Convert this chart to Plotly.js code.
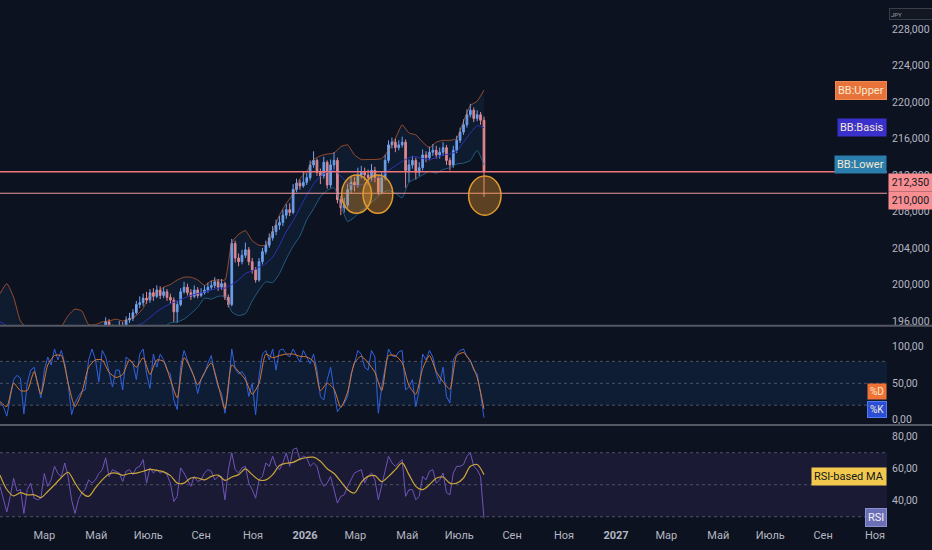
<!DOCTYPE html>
<html><head><meta charset="utf-8">
<script src="https://cdn.plot.ly/plotly-3.0.1.min.js"></script>
<style>html,body{margin:0;padding:0;background:#0d1220;}#chart{width:932px;height:550px;}</style>
</head><body><div id="chart"></div>
<script>
// ---------------- DATA (prices in thousands of JPY) ----------------
const SERIES_START = [2025, 0, 8];   // first sample date (UTC y, m, d)
const STEP_FAST = 4;                 // days between samples: candles, %K, RSI
const STEP_SLOW = 8;                 // days between samples: Bollinger bands, %D, RSI MA
const CANDLE_FIRST_SAMPLE = 28;      // candles start at this fast-sample index

const candleOpen = [
194.8,194.5,194.0,195.0,195.9,195.2,194.8,195.0,195.5,195.3,
196.1,196.3,196.9,197.8,198.0,198.5,198.3,199.1,198.7,199.4,
198.8,199.2,198.6,198.3,197.0,197.8,199.2,199.7,199.1,198.7,
199.4,198.8,199.1,199.4,199.7,199.9,200.3,199.7,200.1,198.6,
197.8,204.5,202.9,202.5,203.2,203.8,202.5,201.6,200.5,202.5,
203.6,204.3,205.1,205.8,206.5,206.8,207.6,208.2,207.9,210.4,
211.1,210.8,211.2,211.7,213.1,213.6,212.3,211.9,213.4,210.9,
213.1,213.6,209.3,208.4,208.7,210.4,211.2,210.9,212.0,212.3,
212.0,211.7,212.5,211.7,210.1,211.7,213.6,215.3,215.6,215.0,
215.3,215.6,212.5,213.1,213.6,212.3,212.8,214.2,213.9,214.5,
214.7,214.2,214.5,215.0,213.6,213.1,214.7,215.8,216.7,217.5,
218.6,219.1,218.2,218.6,218.0];
const candleHigh = [
195.2,194.9,195.4,196.4,196.2,195.6,195.5,196.0,195.9,196.5,
196.9,197.3,198.2,198.7,199.0,199.2,199.5,199.6,199.9,199.8,
199.7,199.5,199.0,198.6,198.2,199.6,200.3,200.1,199.5,199.9,
199.7,199.6,199.9,200.2,200.4,200.8,200.6,200.6,200.3,198.9,
205.0,204.8,203.4,203.8,204.6,204.1,202.9,201.9,202.9,204.0,
204.8,205.6,206.4,207.1,207.5,208.2,208.8,208.9,211.0,211.6,
211.5,212.4,212.2,213.6,214.6,213.8,212.7,214.0,213.6,213.7,
214.5,213.9,209.7,209.5,211.0,211.9,211.8,212.8,213.0,212.8,
212.6,213.2,212.9,212.0,212.3,214.2,215.8,216.1,216.0,215.8,
216.2,215.9,213.7,214.1,213.9,213.4,214.8,214.6,215.1,215.4,
215.2,215.0,215.6,215.3,213.9,215.2,216.3,217.2,218.1,219.2,
219.8,219.4,219.1,218.9,218.4];
const candleLow = [
194.1,193.6,193.8,194.8,194.9,194.4,194.5,194.8,195.0,195.1,
195.8,196.0,196.7,197.4,197.6,197.9,198.0,198.2,198.5,198.4,
198.5,198.2,197.9,195.9,195.8,197.6,199.0,198.8,198.3,198.5,
198.5,198.6,198.9,199.1,199.4,199.6,199.3,199.4,198.3,197.5,
197.6,202.4,202.0,202.2,202.9,202.1,201.2,200.2,200.3,202.2,
203.3,204.0,204.8,205.4,206.0,206.4,207.2,207.5,207.7,210.1,
210.4,210.6,210.9,211.4,212.8,211.9,211.0,211.6,210.5,210.6,
212.6,208.9,207.6,207.9,208.4,210.0,210.2,210.6,211.6,211.4,
210.9,211.3,211.2,209.8,209.9,211.4,213.3,214.9,214.5,214.7,
215.0,210.6,211.2,212.7,211.5,211.9,212.5,213.4,213.6,214.1,
213.8,213.8,214.1,213.1,212.5,212.8,214.4,215.5,216.4,217.2,
218.3,217.8,217.9,217.5,209.6];
const candleClose = [
194.5,194.0,195.0,195.9,195.2,194.8,195.0,195.5,195.3,196.1,
196.3,196.9,197.8,198.0,198.5,198.3,199.1,198.7,199.4,198.8,
199.2,198.6,198.3,197.0,197.8,199.2,199.7,199.1,198.7,199.4,
198.8,199.1,199.4,199.7,199.9,200.3,199.7,200.1,198.6,197.8,
204.5,202.9,202.5,203.2,203.8,202.5,201.6,200.5,202.5,203.6,
204.3,205.1,205.8,206.5,206.8,207.6,208.2,207.9,210.4,211.1,
210.8,211.2,211.7,213.1,213.6,212.3,211.9,213.4,210.9,213.1,
213.6,209.3,208.4,208.7,210.4,211.2,210.9,212.0,212.3,212.0,
211.7,212.5,211.7,210.1,211.7,213.6,215.3,215.6,215.0,215.3,
215.6,212.5,213.1,213.6,212.3,212.8,214.2,213.9,214.5,214.7,
214.2,214.5,215.0,213.6,213.1,214.7,215.8,216.7,217.5,218.6,
219.1,218.2,218.6,218.0,212.35];

const bbUpper = [
199.0,200.1,198.6,196.0,195.2,195.0,194.8,194.9,195.0,195.4,
196.6,197.3,197.1,195.6,195.6,195.9,196.0,196.2,196.0,196.2,
196.6,197.4,198.8,199.1,199.7,200.0,200.5,200.8,200.8,200.5,
199.9,200.4,200.5,200.5,204.6,205.5,205.9,204.8,204.3,204.3,
205.8,207.6,208.9,209.9,211.6,212.4,213.7,214.1,214.3,214.4,
215.1,215.3,214.2,213.7,213.7,213.7,213.8,214.7,216.0,217.5,
216.6,216.4,215.6,215.0,215.6,215.8,215.8,216.0,217.9,219.6,
220.1,221.3];
const bbBasis = [
195.9,195.5,194.8,194.0,193.6,193.4,193.2,193.2,193.3,193.3,
193.4,193.6,193.8,194.0,194.3,194.5,194.8,195.0,195.1,195.3,
195.5,195.8,196.4,197.0,197.5,197.9,198.2,198.5,198.8,199.0,
199.2,199.4,199.6,199.6,200.0,200.5,201.2,201.5,201.9,202.3,
203.0,204.3,205.8,207.0,208.4,209.8,211.0,211.9,212.3,212.5,
211.9,211.1,210.8,210.9,211.2,211.6,211.9,212.5,213.0,213.5,
213.9,214.0,213.8,213.7,213.9,214.2,214.3,214.6,215.6,216.6,
217.4,217.2];
const bbLower = [
192.8,190.9,191.0,192.0,192.0,191.8,191.6,191.5,191.6,191.2,
190.2,189.9,190.5,192.4,193.0,193.1,193.6,193.8,194.2,194.4,
194.4,194.2,194.0,194.9,195.3,195.8,195.9,196.2,196.8,197.5,
198.5,198.4,198.7,198.7,197.0,196.6,196.8,198.2,199.4,200.3,
200.2,201.2,202.8,204.2,205.3,207.1,208.3,209.6,210.3,210.6,
208.7,206.9,207.4,208.1,208.7,209.3,210.0,210.3,210.0,209.5,
211.2,211.6,212.0,212.4,212.2,212.6,212.8,213.2,213.3,213.6,
214.7,213.1];

const stochK = [
23,18,5,32,55,61,57,8,50,68, 72,50,30,68,86,75,97,82,95,77,
50,7,23,32,39,41,82,97,82,52, 95,86,63,45,68,68,41,86,82,77,
55,90,97,63,43,90,72,90,82,68, 63,27,14,72,95,82,68,59,36,55,
63,77,88,63,45,36,9,41,97,70, 63,66,59,32,50,7,59,90,95,82,
97,68,95,97,90,86,97,88,79,95, 86,77,90,68,32,27,55,72,41,11,
18,23,32,63,77,95,90,72,68,95, 86,9,45,72,97,88,86,93,95,41,
45,55,18,41,90,82,95,86,63,50, 72,32,23,82,90,95,97,86,82,68,
63,36,3];
const stochD = [
25,18,50,40,40,66,35,75,88,88, 50,18,37,72,82,82,65,58,62,82,
72,85,62,82,80,55,30,85,70,48, 65,78,48,15,75,66,55,35,50,90,
85,88,90,90,87,86,80,40,50,42, 17,38,78,87,78,65,40,88,88,78,
47,35,70,88,66,52,42,88,92,80, 58,15];

const rsi = [
49,40.6,33,42.7,54,46,47,32,47,51, 41.6,40.6,41.6,57,49,53,61.5,57,55,63.6,
55,40.6,32,40.6,45,47,53,51,53,57, 59.4,66.8,55,59.4,58.4,57.3,52,58.4,59.4,56.3,
60.5,61.5,65.7,51,60.5,57.3,59.4,57.3,58.4,56.3, 51,39.5,42.7,60.5,57.3,53,49,55.2,52,53,
57.3,59.4,58.4,53,55.2,55.2,40.6,59.4,70,59.4, 57.3,60.5,61.5,51,46.9,41.6,53,55.2,63.6,61.5,
67.8,61.5,59.4,63.6,70,61.5,72,73,65.7,67.8, 66.8,61.5,63.6,61.5,53,49,51,55.2,46.9,38.5,
42.7,43.7,49,53,57.3,58.4,59.4,51,55.2,57.3, 53,40.6,50,57.3,67.8,63.6,61.5,63.6,65.7,42.7,
46.9,46.9,40.6,42.7,55.2,53,58.4,59.4,51,53, 57.3,45,43.7,57.3,61.5,61.5,62.6,67.8,70,61.5,
59.4,55.2,29];
const rsiMA = [
56,47,43,45,43.7,43.7,42,45.8,50,54.5, 57.8,51,45,42.7,48,53,56.7,57.3,55.9,57,
57.3,58.4,59.6,59,58,55.7,51,51,54.2,54.2, 53,55.2,56,52.7,54.8,56.3,59.9,56.3,53,53,
56.3,62,63.4,64,66,67,67.2,64.7,60,57, 52,46.9,44.8,51.5,55.2,55.7,51.9,55.2,59.4,63.6,
56.3,49,46.9,50,54,54.8,51,51,54.2,61.5, 62.6,56.3];

const priceLineValue = 212350;   // last price line
const levelLineValue = 210000;   // drawn horizontal level

const monthTickDates = ['2025-03-01','2025-05-01','2025-07-01','2025-09-01','2025-11-01','2026-01-01',
  '2026-03-01','2026-05-01','2026-07-01','2026-09-01','2026-11-01','2027-01-01',
  '2027-03-01','2027-05-01','2027-07-01','2027-09-01','2027-11-01'];
const monthTickLabels = ['Мар','Май','Июль','Сен','Ноя','<b>2026</b>','Мар','Май','Июль','Сен','Ноя',
  '<b>2027</b>','Мар','Май','Июль','Сен','Ноя'];
const priceTickValues = [196000,200000,204000,208000,212000,216000,220000,224000,228000];
const priceTickLabels = ['196,000','200,000','204,000','208,000','212,000','216,000','220,000','224,000','228,000'];
const stochTickValues = [0,50,100];
const stochTickLabels = ['0,00','50,00','100,00'];
const rsiTickValues = [40,60,80];
const rsiTickLabels = ['40,00','60,00','80,00'];

// user-drawn ellipses (date span, price span)
const drawnEllipses = [
  {from:'2026-02-13', to:'2026-03-20', low:207800, high:212000},
  {from:'2026-03-10', to:'2026-04-14', low:207800, high:212000},
  {from:'2026-07-12', to:'2026-08-19', low:207600, high:211900}
];

// ---------------- BUILD ----------------
const DAY = 86400000;
const T0 = Date.UTC(SERIES_START[0], SERIES_START[1], SERIES_START[2]);
function sampleDates(n, step, firstIndex) {
  const out = [];
  for (let k = 0; k < n; k++) out.push(new Date(T0 + (firstIndex + k) * step * DAY).toISOString().slice(0, 10));
  return out;
}
const toJPY = a => a.map(v => v * 1000);
const last = a => a[a.length - 1];

const xCandle = sampleDates(candleClose.length, STEP_FAST, CANDLE_FIRST_SAMPLE);
const xFast = sampleDates(stochK.length, STEP_FAST, 0);
const xSlow = sampleDates(bbUpper.length, STEP_SLOW, 0);

const BG = '#0d1220';
const TXT = '#b4b7c0';
const FONT = 'Roboto, "Liberation Sans", sans-serif';

const traces = [
  {type:'scatter', mode:'lines', x:xSlow, y:toJPY(bbUpper), xaxis:'x', yaxis:'y',
   line:{color:'rgba(236,110,50,0.6)', width:1, shape:'spline', smoothing:0.5}, hoverinfo:'skip'},
  {type:'scatter', mode:'lines', x:xSlow, y:toJPY(bbLower), xaxis:'x', yaxis:'y', fill:'tonexty',
   fillcolor:'rgba(40,120,200,0.10)',
   line:{color:'rgba(40,110,150,0.8)', width:1, shape:'spline', smoothing:0.5}, hoverinfo:'skip'},
  {type:'scatter', mode:'lines', x:xSlow, y:toJPY(bbBasis), xaxis:'x', yaxis:'y',
   line:{color:'#2c33b8', width:1, shape:'spline', smoothing:0.5}, hoverinfo:'skip'},
  {type:'candlestick', x:xCandle, open:toJPY(candleOpen), high:toJPY(candleHigh),
   low:toJPY(candleLow), close:toJPY(candleClose), xaxis:'x', yaxis:'y',
   increasing:{line:{color:'#74a5f0', width:1}, fillcolor:'#74a5f0'},
   decreasing:{line:{color:'#f08a8c', width:1}, fillcolor:'#f08a8c'},
   whiskerwidth:0, hoverinfo:'skip'},
  {type:'scatter', mode:'lines', x:xFast, y:stochK, xaxis:'x', yaxis:'y2',
   line:{color:'#2f62e0', width:1}, hoverinfo:'skip'},
  {type:'scatter', mode:'lines', x:xSlow, y:stochD, xaxis:'x', yaxis:'y2',
   line:{color:'#d9782d', width:1, shape:'spline', smoothing:0.6}, hoverinfo:'skip'},
  {type:'scatter', mode:'lines', x:xFast, y:rsi, xaxis:'x', yaxis:'y3',
   line:{color:'#6f54b8', width:1}, hoverinfo:'skip'},
  {type:'scatter', mode:'lines', x:xSlow, y:rsiMA, xaxis:'x', yaxis:'y3',
   line:{color:'#c9a53a', width:1.2, shape:'spline', smoothing:0.8}, hoverinfo:'skip'}
];

const shapes = [];
// indicator bands
shapes.push({type:'rect', layer:'below', xref:'paper', x0:0, x1:1, yref:'y2', y0:20, y1:80,
  fillcolor:'rgba(33,120,220,0.11)', line:{width:0}});
shapes.push({type:'rect', layer:'below', xref:'paper', x0:0, x1:1, yref:'y3', y0:30, y1:70,
  fillcolor:'rgba(126,87,194,0.13)', line:{width:0}});
[80,50,20].forEach(v => shapes.push({type:'line', xref:'paper', x0:0, x1:1, yref:'y2', y0:v, y1:v,
  line:{color:'#4c5262', width:1, dash:'3px,3px'}, layer:'below'}));
[70,50,30].forEach(v => shapes.push({type:'line', xref:'paper', x0:0, x1:1, yref:'y3', y0:v, y1:v,
  line:{color:'#4c5262', width:1, dash:'3px,3px'}, layer:'below'}));
// horizontal price lines
shapes.push({type:'line', xref:'paper', x0:0, x1:1, yref:'y', y0:priceLineValue, y1:priceLineValue,
  line:{color:'#f2777b', width:1.5}});
shapes.push({type:'line', xref:'paper', x0:0, x1:1, yref:'y', y0:levelLineValue, y1:levelLineValue,
  line:{color:'#f09a9c', width:1}});
// ellipses
drawnEllipses.forEach(e => shapes.push({type:'circle', xref:'x', yref:'y', x0:e.from, x1:e.to, y0:e.low, y1:e.high,
  fillcolor:'rgba(232,150,40,0.36)', line:{color:'#e09a2e', width:1.5}}));
// pane separators
[0.3760, 0.1858].forEach(p => shapes.push({type:'line', xref:'paper', x0:0, x1:1.06, yref:'paper', y0:p, y1:p,
  line:{color:'#555964', width:2}}));

function tag(text, yref, y, bg, color, anchor, opts) {
  return Object.assign({xref:'paper', x:1, xanchor:anchor, yref:yref, y:y, text:text, showarrow:false,
    bgcolor:bg, font:{family:FONT, size:11, color:color}, borderpad:2}, opts || {});
}
const annotations = [
  tag('BB:Upper', 'y', last(bbUpper) * 1000, '#e8733a', '#f6ead2', 'right', {bordercolor:'#f08a55'}),
  tag('BB:Basis', 'y', last(bbBasis) * 1000, '#3a30cc', '#f6ead2', 'right'),
  tag('BB:Lower', 'y', last(bbLower) * 1000, '#2b7dab', '#f6ead2', 'right'),
  tag(priceLineValue.toLocaleString('en-US'), 'y', priceLineValue, '#f78f92', '#131722', 'left',
      {xshift:1, yshift:-11, width:41, height:15, borderpad:1, font:{family:FONT, size:10.5, color:'#131722'}}),
  tag(levelLineValue.toLocaleString('en-US'), 'y', levelLineValue, '#f78f92', '#131722', 'left',
      {xshift:1, yshift:-7, width:41, height:15, borderpad:1, font:{family:FONT, size:10.5, color:'#131722'}}),
  tag('%D', 'y2', last(stochD), '#ef7334', '#f6ead2', 'right', {yshift:17, font:{family:FONT, size:10, color:'#f6ead2'}, borderpad:2}),
  tag('%K', 'y2', last(stochK), '#2a4fd6', '#f6ead2', 'right', {yshift:8, bordercolor:'#4f7cf0', font:{family:FONT, size:10, color:'#f6ead2'}, borderpad:2}),
  tag('RSI-based MA', 'y3', last(rsiMA), '#f2c94c', '#131722', 'right', {yshift:-2}),
  tag('RSI', 'y3', last(rsi), '#6a6fb6', '#f0f0f8', 'right', {yshift:1, bordercolor:'#8c90d0'}),
  {xref:'paper', x:1, xanchor:'left', xshift:2, yref:'paper', y:0.984, text:'JPY', showarrow:false,
   bgcolor:'#131722', bordercolor:'#3a3e48', borderwidth:1, width:40, height:8, borderpad:1,
   font:{family:FONT, size:6, color:'#9aa0aa'}, align:'left'}
];

const axisFont = {family:FONT, size:10.5, color:TXT};
const yCommon = {side:'right', anchor:'x', showgrid:false, zeroline:false, showline:false,
  ticks:'outside', ticklen:2, tickcolor:'rgba(0,0,0,0)', tickfont:axisFont, fixedrange:true, tickmode:'array'};

const layout = {
  width:932, height:550, margin:{l:0, r:45, t:0, b:28},
  paper_bgcolor:BG, plot_bgcolor:BG, showlegend:false, hovermode:false,
  font:{family:FONT, color:TXT},
  xaxis:{type:'date', anchor:'y3', range:['2025-01-08','2027-11-15'], showgrid:false, zeroline:false,
    showline:false, rangeslider:{visible:false}, tickmode:'array', tickvals:monthTickDates,
    ticktext:monthTickLabels, ticks:'outside', ticklen:3, tickcolor:'rgba(0,0,0,0)',
    tickfont:{family:FONT, size:11, color:TXT}, fixedrange:true},
  yaxis:Object.assign({}, yCommon, {domain:[0.3774, 1], range:[195561, 231178],
    tickvals:priceTickValues, ticktext:priceTickLabels}),
  yaxis2:Object.assign({}, yCommon, {domain:[0.18774, 0.37356], range:[-5.75, 127.1],
    tickvals:stochTickValues, ticktext:stochTickLabels}),
  yaxis3:Object.assign({}, yCommon, {domain:[0, 0.18391], range:[26.7, 86.7],
    tickvals:rsiTickValues, ticktext:rsiTickLabels}),
  shapes:shapes, annotations:annotations
};

Plotly.newPlot('chart', traces, layout, {staticPlot:true, displayModeBar:false});
</script></body></html>
